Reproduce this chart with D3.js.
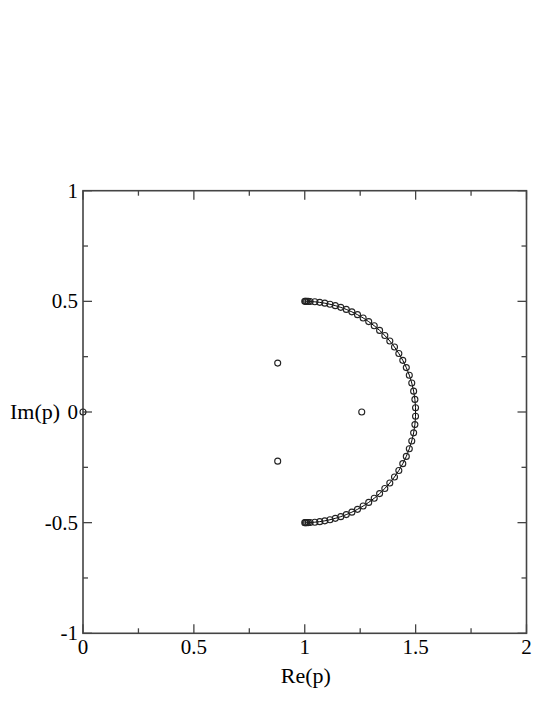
<!DOCTYPE html>
<html>
<head>
<meta charset="utf-8">
<script src="https://cdn.jsdelivr.net/npm/d3@7"></script>
<style>
  body { margin: 0; background: #fff; }
  svg text { font-family: "Liberation Serif", "Times New Roman", "DejaVu Serif", serif; fill: #000; }
</style>
</head>
<body>
<div id="chart"></div>
<script>
// arc of poles (top to bottom)
var arcRe = [1.0000, 1.0035, 1.0087, 1.0157, 1.0241, 1.0455, 1.0676, 1.0904, 1.1138, 1.1379,
             1.1624, 1.1873, 1.2125, 1.2379, 1.2633, 1.2884, 1.3133, 1.3376, 1.3611, 1.3836,
             1.4047, 1.4243, 1.4421, 1.4580, 1.4715, 1.4826, 1.4910, 1.4967, 1.4996,
             1.4996, 1.4967, 1.4910, 1.4826, 1.4715, 1.4580, 1.4421, 1.4243, 1.4047, 1.3836,
             1.3611, 1.3376, 1.3133, 1.2884, 1.2633, 1.2379, 1.2125, 1.1873, 1.1624, 1.1379,
             1.1138, 1.0904, 1.0676, 1.0455, 1.0241, 1.0157, 1.0087, 1.0035, 1.0000];
var arcIm = [0.5000, 0.5000, 0.4999, 0.4998, 0.4994, 0.4979, 0.4954, 0.4918, 0.4869, 0.4806,
             0.4729, 0.4636, 0.4526, 0.4398, 0.4251, 0.4084, 0.3897, 0.3688, 0.3458, 0.3207,
             0.2936, 0.2644, 0.2335, 0.2006, 0.1664, 0.1308, 0.0943, 0.0569, 0.0192,
             -0.0192, -0.0569, -0.0943, -0.1308, -0.1664, -0.2006, -0.2335, -0.2644, -0.2936, -0.3207,
             -0.3458, -0.3688, -0.3897, -0.4084, -0.4251, -0.4398, -0.4526, -0.4636, -0.4729, -0.4806,
             -0.4869, -0.4918, -0.4954, -0.4979, -0.4994, -0.4998, -0.4999, -0.5000, -0.5000];

// isolated poles
var isoRe = [0.0, 0.878, 0.878, 1.257];
var isoIm = [0.0, 0.221, -0.222, 0.0];

var xTicks = [0, 0.5, 1, 1.5, 2];
var xTickLabels = ["0", "0.5", "1", "1.5", "2"];
var yTicks = [-1, -0.5, 0, 0.5, 1];
var yTickLabels = ["-1", "-0.5", "0", "0.5", "1"];
var xMinor = [0.25, 0.75, 1.25, 1.75];
var yMinor = [-0.75, -0.25, 0.25, 0.75];

var width = 554, height = 717;
var plotLeft = 83, plotRight = 526.5, plotTop = 190.7, plotBottom = 633.3;

var svg = d3.select("#chart").append("svg")
    .attr("width", width)
    .attr("height", height);

var x = d3.scaleLinear().domain([0, 2]).range([plotLeft, plotRight]);
var y = d3.scaleLinear().domain([-1, 1]).range([plotBottom, plotTop]);

var frameColor = "#444";

// ticks on all four sides, pointing in
var majorLen = 9, minorLen = 5;
function tickLines(vals, len, horizontal) {
    vals.forEach(function(v) {
        if (horizontal) {
            svg.append("line").attr("x1", x(v)).attr("x2", x(v)).attr("y1", plotBottom).attr("y2", plotBottom - len)
                .attr("stroke", frameColor).attr("stroke-width", 1.3);
            svg.append("line").attr("x1", x(v)).attr("x2", x(v)).attr("y1", plotTop).attr("y2", plotTop + len)
                .attr("stroke", frameColor).attr("stroke-width", 1.3);
        } else {
            svg.append("line").attr("y1", y(v)).attr("y2", y(v)).attr("x1", plotLeft).attr("x2", plotLeft + len)
                .attr("stroke", frameColor).attr("stroke-width", 1.3);
            svg.append("line").attr("y1", y(v)).attr("y2", y(v)).attr("x1", plotRight).attr("x2", plotRight - len)
                .attr("stroke", frameColor).attr("stroke-width", 1.3);
        }
    });
}
tickLines(xTicks, majorLen, true);
tickLines(xMinor, minorLen, true);
tickLines(yTicks, majorLen, false);
tickLines(yMinor, minorLen, false);

svg.append("rect")
    .attr("x", plotLeft).attr("y", plotTop)
    .attr("width", plotRight - plotLeft).attr("height", plotBottom - plotTop)
    .attr("fill", "none")
    .attr("stroke", frameColor)
    .attr("stroke-width", 1.6);

// tick labels
svg.selectAll("text.xt").data(xTicks).enter().append("text")
    .attr("class", "xt")
    .attr("x", function(d) { return x(d); })
    .attr("y", plotBottom + 21)
    .attr("text-anchor", "middle")
    .style("font-size", "21px")
    .text(function(d, i) { return xTickLabels[i]; });

svg.selectAll("text.yt").data(yTicks).enter().append("text")
    .attr("class", "yt")
    .attr("x", plotLeft - 5)
    .attr("y", function(d) { return y(d); })
    .attr("dy", "0.33em")
    .attr("text-anchor", "end")
    .style("font-size", "21px")
    .text(function(d, i) { return yTickLabels[i]; });

// axis titles
svg.append("text")
    .attr("x", x(1) + 1)
    .attr("y", 683)
    .attr("text-anchor", "middle")
    .style("font-size", "22px")
    .text("Re(p)");

svg.append("text")
    .attr("x", 10)
    .attr("y", y(0))
    .attr("dy", "0.33em")
    .attr("text-anchor", "start")
    .style("font-size", "22px")
    .text("Im(p)");

// arc: line through the points, then markers
var arcPairs = d3.zip(arcRe, arcIm);
svg.append("path")
    .datum(arcPairs)
    .attr("fill", "none")
    .attr("stroke", "#000")
    .attr("stroke-width", 1)
    .attr("d", d3.line().x(function(d) { return x(d[0]); }).y(function(d) { return y(d[1]); }));

svg.selectAll("circle.arc").data(arcPairs).enter().append("circle")
    .attr("class", "arc")
    .attr("cx", function(d) { return x(d[0]); })
    .attr("cy", function(d) { return y(d[1]); })
    .attr("r", 3)
    .attr("fill", "none")
    .attr("stroke", "#222")
    .attr("stroke-width", 1.1);

svg.selectAll("circle.iso").data(d3.zip(isoRe, isoIm)).enter().append("circle")
    .attr("class", "iso")
    .attr("cx", function(d) { return x(d[0]); })
    .attr("cy", function(d) { return y(d[1]); })
    .attr("r", 3)
    .attr("fill", "none")
    .attr("stroke", "#222")
    .attr("stroke-width", 1.1);
</script>
</body>
</html>
